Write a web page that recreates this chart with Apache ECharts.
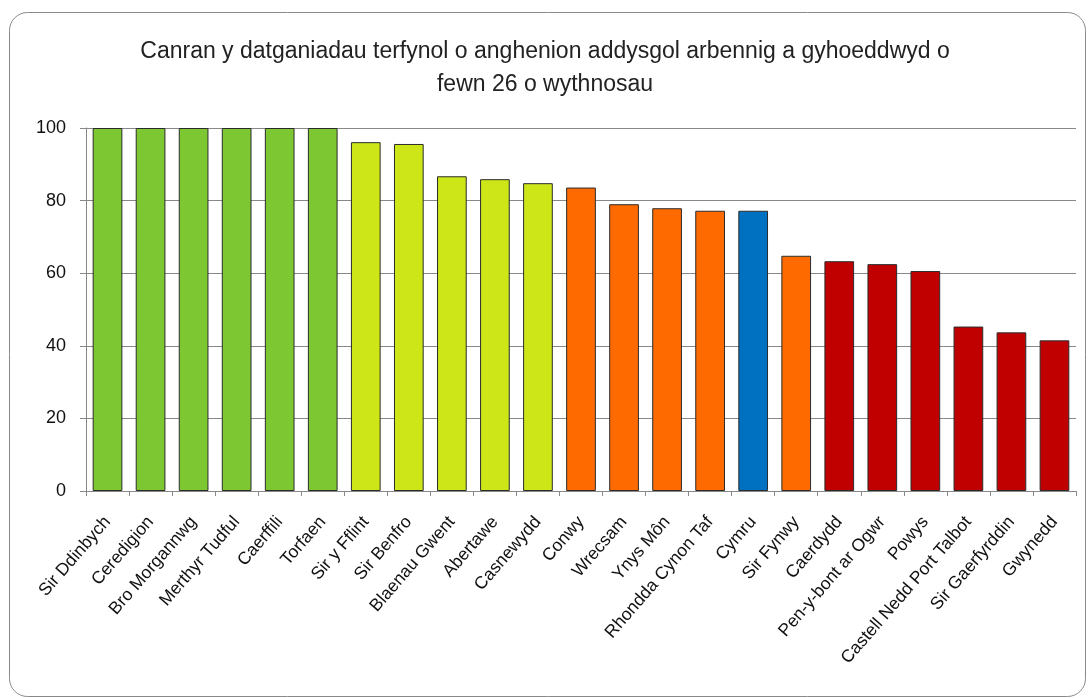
<!DOCTYPE html>
<html>
<head>
<meta charset="utf-8">
<script src="https://cdn.jsdelivr.net/npm/echarts@6/dist/echarts.min.js"></script>
<style>
html,body{margin:0;padding:0;background:#fff;}
#main{width:1090px;height:698px;}
</style>
</head>
<body>
<div id="main"></div>
<script>
const titleText = 'Canran y datganiadau terfynol o anghenion addysgol arbennig a gyhoeddwyd o\nfewn 26 o wythnosau';
const categories = ['Sir Ddinbych','Ceredigion','Bro Morgannwg','Merthyr Tudful','Caerffili','Torfaen','Sir y Fflint','Sir Benfro','Blaenau Gwent','Abertawe','Casnewydd','Conwy','Wrecsam','Ynys Môn','Rhondda Cynon Taf','Cymru','Sir Fynwy','Caerdydd','Pen-y-bont ar Ogwr','Powys','Castell Nedd Port Talbot','Sir Gaerfyrddin','Gwynedd'];
const values = [100,100,100,100,100,100,96.1,95.6,86.7,85.9,84.8,83.6,79.0,77.9,77.2,77.2,64.8,63.3,62.5,60.6,45.3,43.7,41.5];
const groups = ['g','g','g','g','g','g','y','y','y','y','y','o','o','o','o','b','o','r','r','r','r','r','r'];
const groupColors = {g:'#7DC832', y:'#CCE618', o:'#FF6A00', b:'#0070C0', r:'#C00000'};
const yTicks = [0,20,40,60,80,100];

const chart = echarts.init(document.getElementById('main'));
chart.setOption({
  backgroundColor:'#fff',
  animation:false,
  graphic:[{
    type:'rect',
    shape:{x:9.5,y:12.5,width:1076,height:684,r:18},
    style:{fill:'none',stroke:'#8a8a8a',lineWidth:1},
    silent:true
  }],
  title:{
    text:titleText,
    left:'center',
    top:30,
    textStyle:{fontFamily:'Liberation Sans',fontSize:23,fontWeight:'normal',color:'#222',lineHeight:33}
  },
  grid:{left:86,right:14,top:128,bottom:207,containLabel:false},
  xAxis:{
    type:'category',
    data:categories,
    axisLine:{lineStyle:{color:'#888',width:1}},
    axisTick:{show:true,length:5,lineStyle:{color:'#888'}},
    axisLabel:{rotate:49,interval:0,fontFamily:'Liberation Sans',fontSize:17.5,color:'#111',margin:28}
  },
  yAxis:{
    type:'value',
    min:yTicks[0],max:yTicks[yTicks.length-1],interval:20,
    axisLine:{show:true,lineStyle:{color:'#888',width:1}},
    axisTick:{show:true,length:6,lineStyle:{color:'#888'}},
    axisLabel:{fontFamily:'Liberation Sans',fontSize:18,color:'#111',margin:20},
    splitLine:{show:true,lineStyle:{color:'#888',width:1}}
  },
  series:[{
    type:'bar',
    barCategoryGap:'31%',
    data:values.map((v,i)=>({value:v,itemStyle:{color:groupColors[groups[i]]}})),
    itemStyle:{borderColor:'#2b2b2b',borderWidth:1}
  }]
});
</script>
</body>
</html>
